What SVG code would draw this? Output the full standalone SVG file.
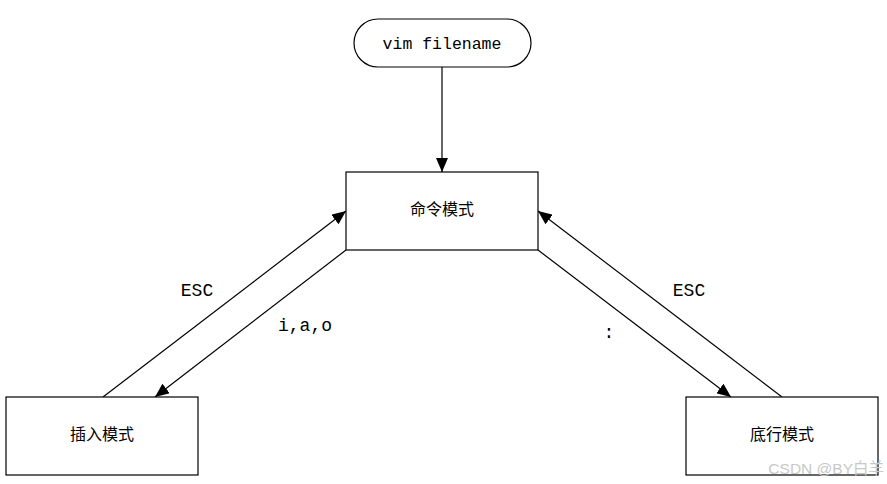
<svg xmlns="http://www.w3.org/2000/svg" width="887" height="484" viewBox="0 0 887 484">
<style>
.box{fill:#fff;stroke:#000;stroke-width:1.2}
.mono{font-family:"Liberation Mono","Courier New","DejaVu Sans Mono",monospace;fill:#000}
.cjk{font-family:"Noto Sans CJK SC","Noto Sans",sans-serif;font-size:16px;fill:#000}
.edge{stroke:#000;stroke-width:1.2;fill:none;marker-end:url(#ah)}
</style>
<defs>
<marker id="ah" markerUnits="userSpaceOnUse" markerWidth="14" markerHeight="12" refX="14" refY="6" orient="auto">
<path d="M0,0 L14,6 L0,12 Z" fill="#000"/>
</marker>
</defs>
<rect width="887" height="484" fill="#fff"/>
<g id="connectors">
<line class="edge" x1="442" y1="67" x2="442" y2="172"/>
<line class="edge" x1="103" y1="397" x2="346" y2="211"/>
<line class="edge" x1="346" y1="250" x2="155" y2="397"/>
<line class="edge" x1="782" y1="397" x2="538" y2="211"/>
<line class="edge" x1="538" y1="250" x2="731" y2="397"/>
<text class="mono" x="197" y="296" font-size="18" text-anchor="middle">ESC</text>
<text class="mono" x="305" y="331" font-size="18" text-anchor="middle">i,a,o</text>
<text class="mono" x="609" y="338" font-size="18" text-anchor="middle">:</text>
<text class="mono" x="689" y="296" font-size="18" text-anchor="middle">ESC</text>
</g>
<g id="start">
<rect class="box" x="354" y="19" width="177" height="48" rx="24" ry="24"/>
<text class="mono" x="442" y="49" font-size="16.5" text-anchor="middle">vim filename</text>
</g>
<g id="command">
<rect class="box" x="346" y="172" width="192" height="78"/>
<text class="cjk" x="442" y="215" text-anchor="middle">命令模式</text>
</g>
<g id="insert">
<rect class="box" x="6" y="397" width="192" height="78"/>
<text class="cjk" x="102" y="440" text-anchor="middle">插入模式</text>
</g>
<g id="lastline">
<rect class="box" x="686" y="397" width="192" height="78"/>
<text class="cjk" x="782" y="440" text-anchor="middle">底行模式</text>
</g>
<text x="884" y="474" font-family="Liberation Sans,Noto Sans CJK SC,sans-serif" font-size="15.5" fill="#c8c8c8" text-anchor="end">CSDN @BY白羊</text>
</svg>
